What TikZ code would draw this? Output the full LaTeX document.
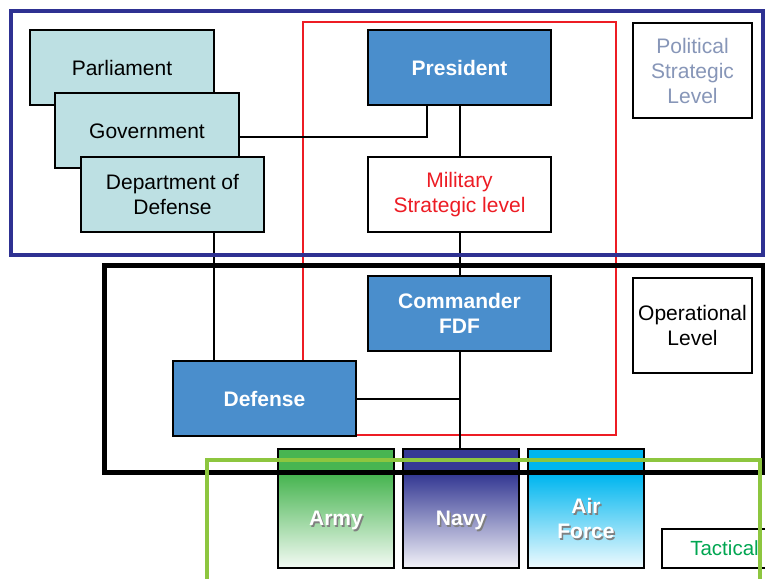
\documentclass[tikz,border=0pt]{standalone}
\usepackage{fontspec}
\setmainfont{Liberation Sans}
\usepackage{xcolor}
\usepackage{tikz}
\usetikzlibrary{positioning}

\definecolor{polblue}{HTML}{2E3192}
\definecolor{milred}{HTML}{ED1C24}
\definecolor{tacgreen}{HTML}{8DC63F}
\definecolor{tactext}{HTML}{00A651}
\definecolor{govteal}{HTML}{BDE0E3}
\definecolor{cmdblue}{HTML}{4A8ECC}
\definecolor{poltext}{HTML}{8796B8}
\definecolor{armygreen}{HTML}{48B551}
\definecolor{navyblue}{HTML}{363A94}
\definecolor{aircyan}{HTML}{00B6EF}

\newcommand{\bodyfont}{\fontsize{21bp}{25bp}\selectfont}
\newcommand{\shadowed}[1]{\raisebox{-17bp}[0pt][0pt]{\rlap{\hspace{1.5bp}\raisebox{-2bp}{\textcolor{black!50}{#1}}}#1}}

\tikzset{
  govbox/.style={draw, line width=2bp, fill=govteal, minimum width=183bp, minimum height=75bp,
    inner sep=0pt, align=center, font=\bodyfont},
  cmdbox/.style={govbox, fill=cmdblue, text=white, font=\bodyfont\bfseries},
  lvlbox/.style={draw, line width=2bp, fill=white, minimum width=119bp, minimum height=95bp,
    inner sep=0pt, align=center, font=\bodyfont},
  branch/.style={draw, line width=2bp, minimum width=116bp, minimum height=119bp, inner sep=0pt,
    align=center, text=white, font=\bodyfont\bfseries,
    path picture={
      \fill[#1] (path picture bounding box.north west) rectangle ([yshift=-26bp]path picture bounding box.north east);
      \shade[top color=#1, bottom color=#1!6] ([yshift=-26bp]path picture bounding box.north west) rectangle (path picture bounding box.south east);
    }},
  link/.style={line width=2bp},
}

\begin{document}
\begin{tikzpicture}[x=1bp, y=-1bp]
  \useasboundingbox (0,0) rectangle (765,579);
  \clip (0,0) rectangle (765,579);

  % military strategic frame
  \draw[line width=2bp, milred] (303,22) rectangle (615.5,435);

  \node[govbox] (parl) at (122,67.5) {Parliament};
  \node[govbox] (gov) at (147,131) {Government};
  \node[govbox] (dod) at (172.5,194.5) {Department of\\Defense};

  \node[cmdbox] (pres) at (459.5,67.5) {President};
  \node[govbox, fill=white, text=milred] (mil) at (459.5,194.5) {Military\\Strategic level};
  \node[cmdbox] (cmd) at (459.5,313.5) {Commander\\FDF};
  \node[cmdbox] (def) at (264.5,398.5) {Defense};

  \node[lvlbox, text=poltext] (pol) at (692.5,71) {Political\\Strategic\\Level};
  \node[lvlbox] (oper) at (692.5,325.5) {Operational\\Level};

  \node[branch=armygreen] (army) at (336,508.5) {\shadowed{Army}};
  \node[branch=navyblue] (navy) at (461,508.5) {\shadowed{Navy}};
  \node[branch=aircyan] (air) at (586,508.5) {\shadowed{Air}\\\shadowed{Force}};

  \node[draw, line width=2bp, fill=white, text=tactext, font=\fontsize{20.5bp}{24bp}\selectfont,
    minimum width=130bp, minimum height=39bp, inner sep=0pt] (tact) at (727,548.5) {Tactical\kern5bp};

  % connectors
  \coordinate (govturn) at ([xshift=-32.5bp]pres.south);
  \coordinate (dodfoot) at ([xshift=41.5bp]dod.south);
  \draw[link] ([yshift=-6bp]gov.east) -| (govturn);
  \draw[link] (pres) -- (mil);
  \draw[link] (mil) -- (cmd);
  \draw[link] (dodfoot) -- (dodfoot |- def.north);
  \draw[link] (cmd.south) -- (cmd.south |- navy.north);
  \draw[link] (def.east) -- (def.east -| cmd.south);

  % level frames
  \draw[line width=4bp, polblue] (10.5,11.5) rectangle (763,255);
  \draw[line width=5bp] (104,265) rectangle (763,472);
  \draw[line width=4bp, tacgreen] (207,460) rectangle (759.5,620);
\end{tikzpicture}
\end{document}
